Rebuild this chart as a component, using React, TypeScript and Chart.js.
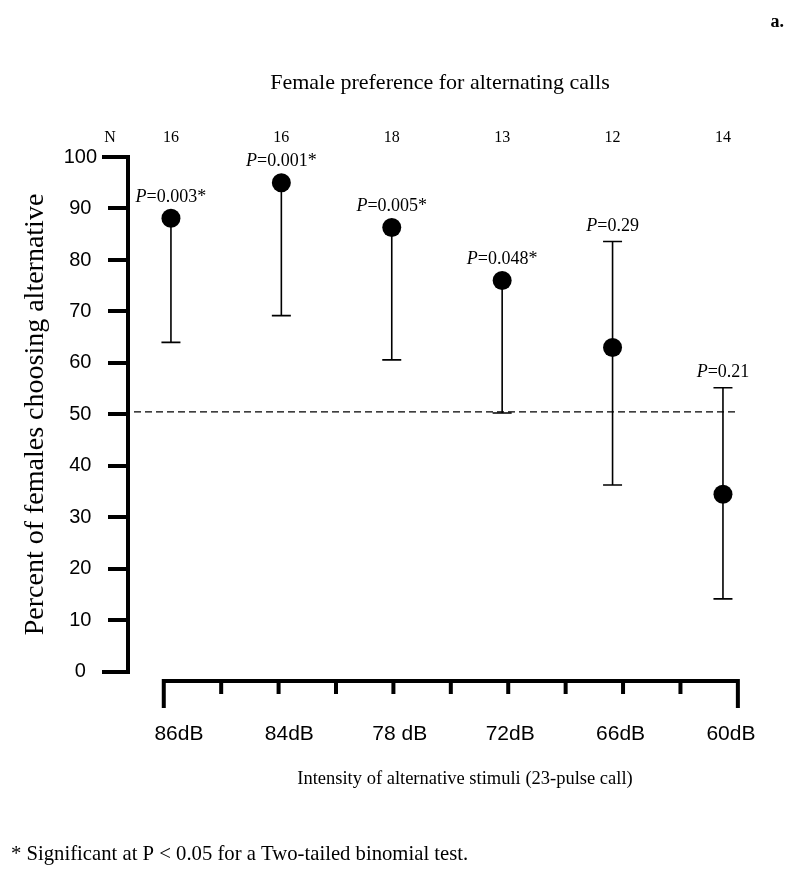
import React, { useEffect, useRef } from "react";
import { Chart, registerables } from "chart.js";

Chart.register(...registerables);

// ---- data ----
const CATEGORIES = ["86dB", "84dB", "78 dB", "72dB", "66dB", "60dB"];
const N_VALUES = [16, 16, 18, 13, 12, 14];
const PERCENT = [88.1, 95.0, 86.3, 76.0, 63.0, 34.5];
const LOWER = [64.0, 69.2, 60.6, 50.3, 36.3, 14.2];
const UPPER: (number | null)[] = [null, null, null, null, 83.6, 55.2];
const P_VALUES = ["0.003*", "0.001*", "0.005*", "0.048*", "0.29", "0.21"];
const Y_MIN = 0;
const Y_MAX = 100;
const Y_STEP = 10;
const CHANCE = 50.5;

const TITLE = "Female preference for alternating calls";
const Y_TITLE = "Percent of females choosing alternative";
const X_TITLE = "Intensity of alternative stimuli (23-pulse call)";
const FOOTNOTE = "* Significant at P < 0.05 for a Two-tailed binomial test.";
const PANEL = "a.";

const SERIF = '"Liberation Serif", "Times New Roman", serif';
const SANS = '"Liberation Sans", Arial, sans-serif';

const annotations = {
  id: "annotations",
  beforeDatasetsDraw(chart: any) {
    const { ctx, chartArea, scales } = chart;
    const x = scales.x;
    const y = scales.y;
    ctx.save();
    ctx.strokeStyle = "#000";
    // chance line
    const last = CATEGORIES.length - 1;
    const yc = y.getPixelForValue(CHANCE);
    ctx.setLineDash([7, 4]);
    ctx.lineWidth = 1.3;
    ctx.beginPath();
    ctx.moveTo(chartArea.left + 6, yc);
    ctx.lineTo(x.getPixelForValue(last + 0.12), yc);
    ctx.stroke();
    ctx.setLineDash([]);
    // error bars
    ctx.lineWidth = 1.6;
    const capHalf = 9.5;
    PERCENT.forEach((v, i) => {
      const px = x.getPixelForValue(i);
      const up = UPPER[i];
      const yt = y.getPixelForValue(up == null ? v : up);
      const yb = y.getPixelForValue(LOWER[i]);
      ctx.beginPath();
      ctx.moveTo(px, yt);
      ctx.lineTo(px, yb);
      ctx.moveTo(px - capHalf, yb);
      ctx.lineTo(px + capHalf, yb);
      if (up != null) {
        ctx.moveTo(px - capHalf, yt);
        ctx.lineTo(px + capHalf, yt);
      }
      ctx.stroke();
    });
    ctx.restore();
  },
  afterDraw(chart: any) {
    const { ctx, chartArea, scales, width } = chart;
    const x = scales.x;
    const y = scales.y;
    const last = CATEGORIES.length - 1;
    ctx.save();
    ctx.fillStyle = "#000";
    ctx.strokeStyle = "#000";

    // longer end ticks on the y axis
    ctx.lineWidth = 4;
    ctx.beginPath();
    [Y_MIN, Y_MAX].forEach((v) => {
      const ty = y.getPixelForValue(v);
      ctx.moveTo(chartArea.left - 26, ty);
      ctx.lineTo(chartArea.left - 18, ty);
    });
    ctx.stroke();

    // bottom bracket axis
    const by = chartArea.bottom + 9;
    const bx0 = x.getPixelForValue(-0.065);
    const bx1 = x.getPixelForValue(last + 0.135);
    ctx.lineWidth = 4;
    ctx.lineCap = "butt";
    ctx.beginPath();
    ctx.moveTo(bx0 - 2, by);
    ctx.lineTo(bx1 + 2, by);
    const segs = 10;
    for (let k = 0; k <= segs; k++) {
      const tx = bx0 + ((bx1 - bx0) * k) / segs;
      const len = k === 0 || k === segs ? 27 : 13;
      ctx.moveTo(tx, by);
      ctx.lineTo(tx, by + len);
    }
    ctx.stroke();

    // N row
    ctx.textBaseline = "middle";
    ctx.textAlign = "center";
    ctx.font = `16px ${SERIF}`;
    const ny = chartArea.top - 19;
    ctx.fillText("N", chartArea.left - 18, ny);
    N_VALUES.forEach((n, i) => ctx.fillText(String(n), x.getPixelForValue(i), ny));

    // P labels
    ctx.textAlign = "left";
    P_VALUES.forEach((p, i) => {
      const px = x.getPixelForValue(i);
      const up = UPPER[i];
      const ly = up == null ? y.getPixelForValue(PERCENT[i]) - 21 : y.getPixelForValue(up) - 15;
      const italic = `italic 18px ${SERIF}`;
      const normal = `18px ${SERIF}`;
      ctx.font = italic;
      const wP = ctx.measureText("P").width;
      ctx.font = normal;
      const rest = "=" + p;
      const wR = ctx.measureText(rest).width;
      const sx = px - (wP + wR) / 2;
      ctx.font = italic;
      ctx.fillText("P", sx, ly);
      ctx.font = normal;
      ctx.fillText(rest, sx + wP, ly);
    });

    // x-axis title
    ctx.textAlign = "center";
    ctx.font = `18.5px ${SERIF}`;
    ctx.fillText(X_TITLE, 465, 779);

    // panel letter
    ctx.textAlign = "right";
    ctx.font = `bold 18px ${SERIF}`;
    ctx.fillText(PANEL, width - 16, 22);
    ctx.restore();
  },
};

export default function App() {
  const ref = useRef<HTMLCanvasElement | null>(null);
  useEffect(() => {
    if (!ref.current) return;
    const chart = new Chart(ref.current, {
      type: "scatter",
      data: {
        datasets: [
          {
            data: PERCENT.map((v, i) => ({ x: i, y: v })),
            pointRadius: 9.5,
            pointHoverRadius: 9.5,
            backgroundColor: "#000",
            borderColor: "#000",
            borderWidth: 0,
            showLine: false,
          },
        ],
      },
      options: {
        responsive: false,
        animation: false,
        events: [],
        layout: { padding: { left: 11, right: 48, top: 0, bottom: 0 } },
        plugins: {
          legend: { display: false },
          tooltip: { enabled: false },
          title: {
            display: true,
            text: TITLE,
            fullSize: false,
            color: "#000",
            font: { family: SERIF, size: 22, weight: "normal" },
            padding: { top: 70, bottom: 60.6 },
          },
          subtitle: {
            display: true,
            position: "bottom",
            align: "start",
            text: FOOTNOTE,
            color: "#000",
            font: { family: SERIF, size: 20.7, weight: "normal" },
            padding: { top: 97.2, bottom: 12 },
          },
        },
        scales: {
          x: {
            type: "linear",
            min: -0.389,
            max: 5.263,
            border: { display: false },
            grid: { display: false, drawTicks: false },
            afterBuildTicks: (s: any) => {
              s.ticks = CATEGORIES.map((_, i) => ({ value: i }));
            },
            afterFit: (s: any) => {
              s.height = 73;
            },
            ticks: {
              callback: (v: any) => CATEGORIES[v] ?? "",
              color: "#000",
              font: { family: SANS, size: 21 },
              padding: 50,
              labelOffset: 8,
              maxRotation: 0,
              autoSkip: false,
            },
          },
          y: {
            min: Y_MIN,
            max: Y_MAX,
            border: { display: true, color: "#000", width: 4 },
            grid: { drawOnChartArea: false, color: "#000", lineWidth: 4, tickLength: 20 },
            afterFit: (s: any) => {
              s.width = 117;
            },
            ticks: {
              stepSize: Y_STEP,
              color: "#000",
              font: { family: SANS, size: 20 },
              padding: 11,
              crossAlign: "center",
            },
            title: {
              display: true,
              text: Y_TITLE,
              color: "#000",
              font: { family: SERIF, size: 28 },
              padding: { top: 8.2, bottom: 0 },
            },
          },
        },
      },
      plugins: [annotations],
    } as any);
    return () => chart.destroy();
  }, []);
  return (
    <div style={{ position: "absolute", left: 0, top: 0, width: 800, height: 879, background: "#fff" }}>
      <canvas ref={ref} width={800} height={879} style={{ display: "block" }} />
    </div>
  );
}
